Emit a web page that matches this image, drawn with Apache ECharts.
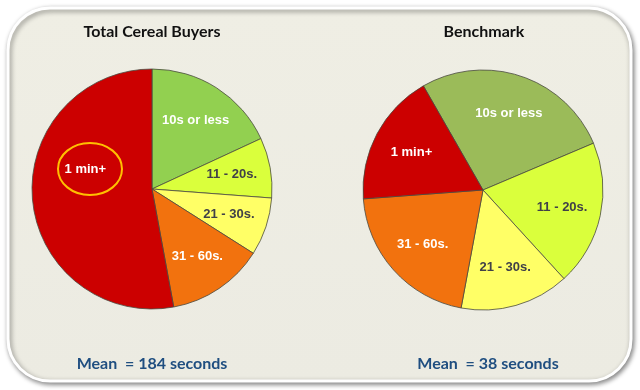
<!DOCTYPE html>
<html>
<head>
<meta charset="utf-8">
<script src="https://cdn.jsdelivr.net/npm/echarts@6/dist/echarts.min.js"></script>
<style>
html,body{margin:0;padding:0;background:#ffffff;}
#chart{width:640px;height:390px;}
</style>
</head>
<body>
<div id="chart"></div>
<script>
// ---- data ----
const categories = ['10s or less', '11 - 20s.', '21 - 30s.', '31 - 60s.', '1 min+'];
const totalValues = [18.1, 8.1, 7.8, 13.1, 52.9];
const benchmarkValues = [26.9, 19.6, 14.7, 20.9, 17.9];
const chartTitles = ['Total Cereal Buyers', 'Benchmark'];
const meanTexts = ['Mean  = 184 seconds', 'Mean  = 38 seconds'];

// ---- styles ----
const totalColors = ['#92D050', '#DAFF3C', '#FFFF66', '#F2720E', '#CC0000'];
const benchColors = ['#9BBB59', '#DAFF3C', '#FFFF66', '#F2720E', '#CC0000'];
const labelColors = ['#ffffff', '#404048', '#404048', '#ffffff', '#ffffff'];

function buildData(values, colors) {
  return categories.map((name, i) => ({ name: name, value: values[i], itemStyle: { color: colors[i] } }));
}
function buildLabelData(values, extraOffsets) {
  return categories.map((name, i) => {
    const d = {
      name: name, value: values[i],
      itemStyle: { color: 'rgba(0,0,0,0)', borderWidth: 0 },
      label: { color: labelColors[i] }
    };
    if (extraOffsets && extraOffsets[i]) d.label.offset = extraOffsets[i];
    return d;
  });
}

const pieBase = {
  type: 'pie',
  radius: [0, 120],
  clockwise: true,
  avoidLabelOverlap: false,
  label: { show: false },
  labelLine: { show: false },
  emphasis: { disabled: true },
  silent: true,
  animation: false,
  itemStyle: { borderColor: '#4a4a40', borderWidth: 0.8 }
};
const labelBase = {
  type: 'pie',
  radius: [36, 120],
  clockwise: true,
  avoidLabelOverlap: false,
  silent: true,
  animation: false,
  emphasis: { disabled: true },
  labelLine: { show: false },
  label: {
    show: true, position: 'inside', formatter: '{b}',
    fontFamily: 'Liberation Sans, Arial, sans-serif', fontWeight: 'bold', fontSize: 13
  }
};

const chart = echarts.init(document.getElementById('chart'), null, { renderer: 'canvas' });
const option = {
  backgroundColor: '#ffffff',
  animation: false,
  graphic: [
    {
      type: 'rect', z: -10, silent: true,
      shape: { x: 8, y: 8, width: 623, height: 373, r: 42 },
      style: {
        fill: new echarts.graphic.LinearGradient(0, 0, 0, 1, [
          { offset: 0, color: '#EFEEE4' }, { offset: 1, color: '#ECEBE2' }
        ]),
        stroke: '#ffffff', lineWidth: 3,
        shadowBlur: 5, shadowColor: 'rgba(0,0,0,0.45)', shadowOffsetX: 1.5, shadowOffsetY: 2
      }
    },
    {
      type: 'text', silent: true, z: 10,
      style: { text: chartTitles[0], x: 152, y: 32, textAlign: 'center', textVerticalAlign: 'middle',
        font: 'bold 16px Lato, "Open Sans", sans-serif', fill: '#111111' }
    },
    {
      type: 'text', silent: true, z: 10,
      style: { text: chartTitles[1], x: 484, y: 32, textAlign: 'center', textVerticalAlign: 'middle',
        font: 'bold 16px Lato, "Open Sans", sans-serif', fill: '#111111' }
    },
    {
      type: 'text', silent: true, z: 10,
      style: { text: meanTexts[0], x: 152, y: 364, textAlign: 'center', textVerticalAlign: 'middle',
        font: 'bold 16px Lato, "Open Sans", sans-serif', fill: '#1F4E80' }
    },
    {
      type: 'text', silent: true, z: 10,
      style: { text: meanTexts[1], x: 488, y: 364, textAlign: 'center', textVerticalAlign: 'middle',
        font: 'bold 16px Lato, "Open Sans", sans-serif', fill: '#1F4E80' }
    },
    {
      type: 'ellipse', silent: true, z: 100,
      shape: { cx: 90, cy: 169, rx: 32, ry: 26 },
      style: { fill: 'none', stroke: '#FFC000', lineWidth: 2 }
    }
  ],
  series: [
    Object.assign({}, pieBase, {
      center: [152, 189], startAngle: 90,
      data: buildData(totalValues, totalColors)
    }),
    Object.assign({}, pieBase, {
      center: [483, 190], startAngle: 119.8,
      data: buildData(benchmarkValues, benchColors)
    }),
    Object.assign({}, labelBase, {
      center: [152, 189], startAngle: 90,
      data: buildLabelData(totalValues, [null, null, null, null, [14, -27]])
    }),
    Object.assign({}, labelBase, {
      center: [483, 190], startAngle: 119.8,
      data: buildLabelData(benchmarkValues)
    })
  ]
};
chart.setOption(option);
</script>
</body>
</html>
